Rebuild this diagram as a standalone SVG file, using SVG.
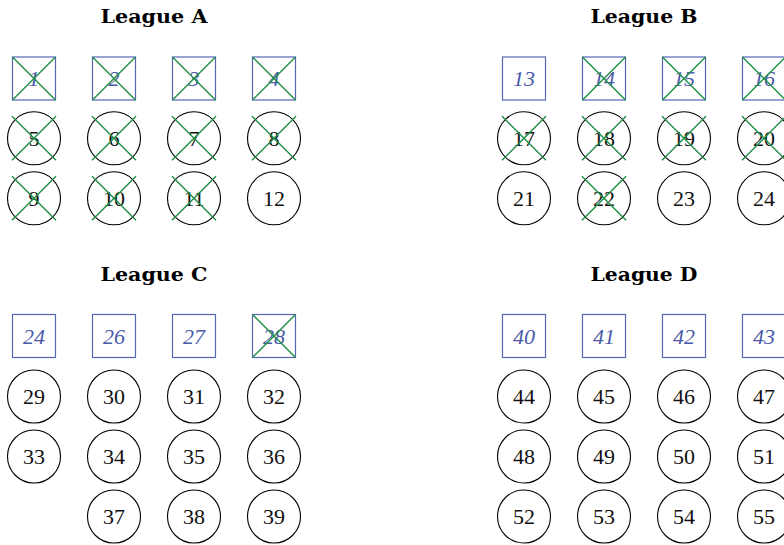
<svg xmlns="http://www.w3.org/2000/svg" width="784" height="545" viewBox="0 0 784 545">
<style>
.title{font-family:"DejaVu Serif","Liberation Serif",serif;font-weight:bold;font-size:19px;fill:#000;text-anchor:middle}
.sq rect{fill:none;stroke:#5566b5;stroke-width:1.2}
.sq text{font-family:"Liberation Serif",serif;font-style:italic;font-size:22px;fill:#4a5aa8;text-anchor:middle}
.ci circle{fill:none;stroke:#000;stroke-width:1.1}
.ci text{font-family:"Liberation Serif",serif;font-size:22px;fill:#111;text-anchor:middle}
.x{fill:none;stroke:#23904a;stroke-width:1.5}
</style>
<defs>
<path id="xs" class="x" d="M-21.5,-21.5L21.5,21.5M-21.5,21.5L21.5,-21.5"/>
<path id="xc" class="x" d="M-22,-22L22,22M-22,22L22,-22"/>
</defs>

<text class="title" x="154" y="23" textLength="107" lengthAdjust="spacingAndGlyphs">League A</text>
<text class="title" x="644" y="23" textLength="107" lengthAdjust="spacingAndGlyphs">League B</text>
<text class="title" x="154" y="280.5" textLength="107" lengthAdjust="spacingAndGlyphs">League C</text>
<text class="title" x="644" y="280.5" textLength="107" lengthAdjust="spacingAndGlyphs">League D</text>

<!-- League A -->
<g id="n1" class="sq" transform="translate(34,78.5)"><rect x="-21.5" y="-21.5" width="43" height="43"/><text y="7.5">1</text><use href="#xs"/></g>
<g id="n2" class="sq" transform="translate(114,78.5)"><rect x="-21.5" y="-21.5" width="43" height="43"/><text y="7.5">2</text><use href="#xs"/></g>
<g id="n3" class="sq" transform="translate(194,78.5)"><rect x="-21.5" y="-21.5" width="43" height="43"/><text y="7.5">3</text><use href="#xs"/></g>
<g id="n4" class="sq" transform="translate(274,78.5)"><rect x="-21.5" y="-21.5" width="43" height="43"/><text y="7.5">4</text><use href="#xs"/></g>
<g id="n5" class="ci" transform="translate(34,138.3)"><circle r="26.5"/><text y="7.5">5</text><use href="#xc"/></g>
<g id="n6" class="ci" transform="translate(114,138.3)"><circle r="26.5"/><text y="7.5">6</text><use href="#xc"/></g>
<g id="n7" class="ci" transform="translate(194,138.3)"><circle r="26.5"/><text y="7.5">7</text><use href="#xc"/></g>
<g id="n8" class="ci" transform="translate(274,138.3)"><circle r="26.5"/><text y="7.5">8</text><use href="#xc"/></g>
<g id="n9" class="ci" transform="translate(34,198.3)"><circle r="26.5"/><text y="7.5">9</text><use href="#xc"/></g>
<g id="n10" class="ci" transform="translate(114,198.3)"><circle r="26.5"/><text y="7.5">10</text><use href="#xc"/></g>
<g id="n11" class="ci" transform="translate(194,198.3)"><circle r="26.5"/><text y="7.5">11</text><use href="#xc"/></g>
<g id="n12" class="ci" transform="translate(274,198.3)"><circle r="26.5"/><text y="7.5">12</text></g>

<!-- League B -->
<g id="n13" class="sq" transform="translate(524,78.5)"><rect x="-21.5" y="-21.5" width="43" height="43"/><text y="7.5">13</text></g>
<g id="n14" class="sq" transform="translate(604,78.5)"><rect x="-21.5" y="-21.5" width="43" height="43"/><text y="7.5">14</text><use href="#xs"/></g>
<g id="n15" class="sq" transform="translate(684,78.5)"><rect x="-21.5" y="-21.5" width="43" height="43"/><text y="7.5">15</text><use href="#xs"/></g>
<g id="n16" class="sq" transform="translate(764,78.5)"><rect x="-21.5" y="-21.5" width="43" height="43"/><text y="7.5">16</text><use href="#xs"/></g>
<g id="n17" class="ci" transform="translate(524,138.3)"><circle r="26.5"/><text y="7.5">17</text><use href="#xc"/></g>
<g id="n18" class="ci" transform="translate(604,138.3)"><circle r="26.5"/><text y="7.5">18</text><use href="#xc"/></g>
<g id="n19" class="ci" transform="translate(684,138.3)"><circle r="26.5"/><text y="7.5">19</text><use href="#xc"/></g>
<g id="n20" class="ci" transform="translate(764,138.3)"><circle r="26.5"/><text y="7.5">20</text><use href="#xc"/></g>
<g id="n21" class="ci" transform="translate(524,198.3)"><circle r="26.5"/><text y="7.5">21</text></g>
<g id="n22" class="ci" transform="translate(604,198.3)"><circle r="26.5"/><text y="7.5">22</text><use href="#xc"/></g>
<g id="n23" class="ci" transform="translate(684,198.3)"><circle r="26.5"/><text y="7.5">23</text></g>
<g id="n24" class="ci" transform="translate(764,198.3)"><circle r="26.5"/><text y="7.5">24</text></g>

<!-- League C -->
<g id="n24c" class="sq" transform="translate(34,336)"><rect x="-21.5" y="-21.5" width="43" height="43"/><text y="7.5">24</text></g>
<g id="n26" class="sq" transform="translate(114,336)"><rect x="-21.5" y="-21.5" width="43" height="43"/><text y="7.5">26</text></g>
<g id="n27" class="sq" transform="translate(194,336)"><rect x="-21.5" y="-21.5" width="43" height="43"/><text y="7.5">27</text></g>
<g id="n28" class="sq" transform="translate(274,336)"><rect x="-21.5" y="-21.5" width="43" height="43"/><text y="7.5">28</text><use href="#xs"/></g>
<g id="n29" class="ci" transform="translate(34,396.5)"><circle r="26.5"/><text y="7.5">29</text></g>
<g id="n30" class="ci" transform="translate(114,396.5)"><circle r="26.5"/><text y="7.5">30</text></g>
<g id="n31" class="ci" transform="translate(194,396.5)"><circle r="26.5"/><text y="7.5">31</text></g>
<g id="n32" class="ci" transform="translate(274,396.5)"><circle r="26.5"/><text y="7.5">32</text></g>
<g id="n33" class="ci" transform="translate(34,456.5)"><circle r="26.5"/><text y="7.5">33</text></g>
<g id="n34" class="ci" transform="translate(114,456.5)"><circle r="26.5"/><text y="7.5">34</text></g>
<g id="n35" class="ci" transform="translate(194,456.5)"><circle r="26.5"/><text y="7.5">35</text></g>
<g id="n36" class="ci" transform="translate(274,456.5)"><circle r="26.5"/><text y="7.5">36</text></g>
<g id="n37" class="ci" transform="translate(114,516.5)"><circle r="26.5"/><text y="7.5">37</text></g>
<g id="n38" class="ci" transform="translate(194,516.5)"><circle r="26.5"/><text y="7.5">38</text></g>
<g id="n39" class="ci" transform="translate(274,516.5)"><circle r="26.5"/><text y="7.5">39</text></g>

<!-- League D -->
<g id="n40" class="sq" transform="translate(524,336)"><rect x="-21.5" y="-21.5" width="43" height="43"/><text y="7.5">40</text></g>
<g id="n41" class="sq" transform="translate(604,336)"><rect x="-21.5" y="-21.5" width="43" height="43"/><text y="7.5">41</text></g>
<g id="n42" class="sq" transform="translate(684,336)"><rect x="-21.5" y="-21.5" width="43" height="43"/><text y="7.5">42</text></g>
<g id="n43" class="sq" transform="translate(764,336)"><rect x="-21.5" y="-21.5" width="43" height="43"/><text y="7.5">43</text></g>
<g id="n44" class="ci" transform="translate(524,396.5)"><circle r="26.5"/><text y="7.5">44</text></g>
<g id="n45" class="ci" transform="translate(604,396.5)"><circle r="26.5"/><text y="7.5">45</text></g>
<g id="n46" class="ci" transform="translate(684,396.5)"><circle r="26.5"/><text y="7.5">46</text></g>
<g id="n47" class="ci" transform="translate(764,396.5)"><circle r="26.5"/><text y="7.5">47</text></g>
<g id="n48" class="ci" transform="translate(524,456.5)"><circle r="26.5"/><text y="7.5">48</text></g>
<g id="n49" class="ci" transform="translate(604,456.5)"><circle r="26.5"/><text y="7.5">49</text></g>
<g id="n50" class="ci" transform="translate(684,456.5)"><circle r="26.5"/><text y="7.5">50</text></g>
<g id="n51" class="ci" transform="translate(764,456.5)"><circle r="26.5"/><text y="7.5">51</text></g>
<g id="n52" class="ci" transform="translate(524,516.5)"><circle r="26.5"/><text y="7.5">52</text></g>
<g id="n53" class="ci" transform="translate(604,516.5)"><circle r="26.5"/><text y="7.5">53</text></g>
<g id="n54" class="ci" transform="translate(684,516.5)"><circle r="26.5"/><text y="7.5">54</text></g>
<g id="n55" class="ci" transform="translate(764,516.5)"><circle r="26.5"/><text y="7.5">55</text></g>

<g id="connectors"/>
</svg>
